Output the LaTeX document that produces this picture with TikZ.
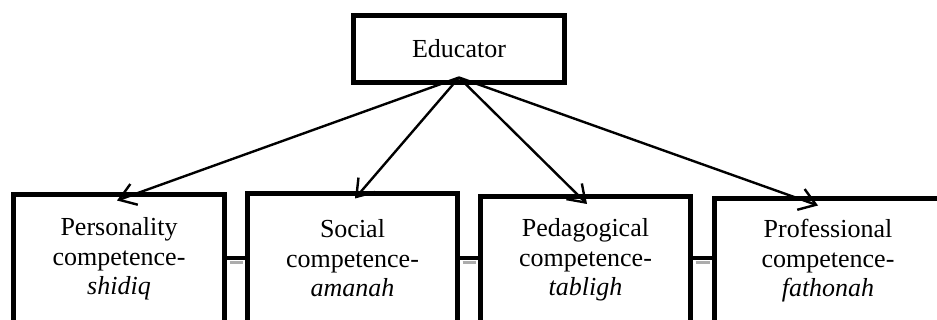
\documentclass[tikz,border=0pt]{standalone}
\usepackage{fontspec}
\setmainfont{Liberation Serif}
\usetikzlibrary{arrows.meta}

\begin{document}
\begin{tikzpicture}
  [x=0.5pt,y=-0.5pt,every node/.style={draw,line width=2.5pt,fill=white,align=center,inner sep=0pt,font=\fontsize{13}{14.75}\selectfont},
   arr/.style={line width=1.2pt,-{Straight Barb[length=8pt,width=11pt,line width=1.2pt]}}]
  \useasboundingbox (0,0) rectangle (937,320);
  \clip (0,0) rectangle (937,320);
  \coordinate (rail) at (0,258.5);
  \coordinate (shade) at (0,262.5);
  \node[minimum width=105.5pt,minimum height=33.5pt] (edu) at (459,49) {Educator};
  \node[minimum width=105.5pt,minimum height=64.5pt] (p1) at (119,259)   {Personality\\competence-\\\textit{shidiq}};
  \node[minimum width=105pt,minimum height=65pt]     (p2) at (352.5,258.5) {Social\\competence-\\\textit{amanah}};
  \node[minimum width=105pt,minimum height=63.5pt]   (p3) at (585.5,260) {Pedagogical\\competence-\\\textit{tabligh}};
  \node[minimum width=113.5pt,minimum height=62.5pt] (p4) at (828,261)   {Professional\\competence-\\\textit{fathonah}};

\foreach \tgt/\dx/\dy in {p1/-1/4.25, p2/1.25/3.75, p3/0.75/5, p4/-5/4.75}
    \draw[arr] ([yshift=3.75pt]edu.south) -- ([xshift=\dx pt,yshift=-\dy pt]\tgt.north);
\foreach \a/\b in {p1/p2, p2/p3, p3/p4} {
    \draw[gray!65,line width=1.5pt,shorten <=1.25pt,shorten >=1.25pt] (\a.east |- shade) -- (\b.west |- shade);
    \draw[line width=2pt] (\a.east |- rail) -- (\b.west |- rail);
}
\end{tikzpicture}
\end{document}
